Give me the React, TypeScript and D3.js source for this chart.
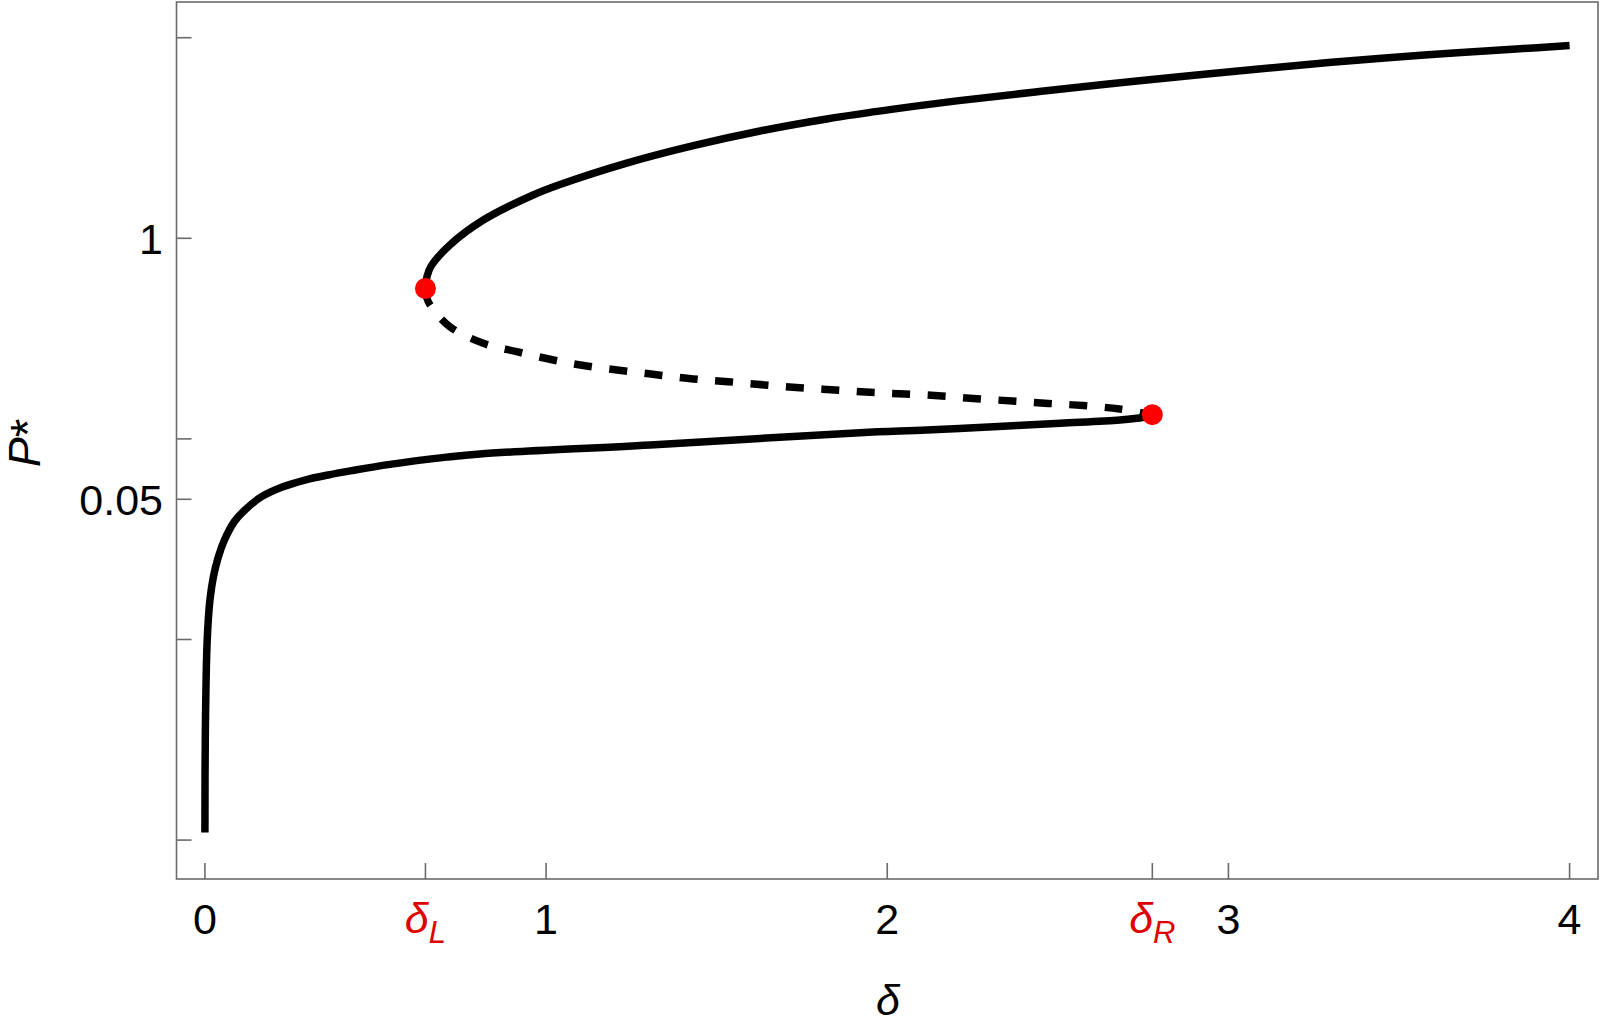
import React from 'react';
import * as d3 from 'd3';

// stable branch starting at delta = 0
const lowerDelta = [0, 0.0012, 0.0067, 0.0147, 0.0249, 0.0396, 0.0572, 0.0865, 0.1173, 0.1662, 0.2249, 0.2932, 0.3615, 0.4301, 0.542, 0.709, 0.806, 1.305, 1.92, 2.116, 2.311, 2.507, 2.682, 2.751, 2.777];
const lowerP = [0.00109, 0.00342, 0.00993, 0.01574, 0.02056, 0.02588, 0.03133, 0.03875, 0.04426, 0.05152, 0.05741, 0.06237, 0.06607, 0.06943, 0.07464, 0.0811, 0.08414, 0.09333, 0.1074, 0.1107, 0.1151, 0.1197, 0.1242, 0.1282, 0.1321];

// unstable branch (dashed)
const middleDelta = [0.6464, 0.6505, 0.66, 0.718, 0.816, 0.914, 1.021, 1.119, 1.226, 1.329, 1.431, 1.534, 1.64, 1.744, 1.847, 1.95, 2.052, 2.16, 2.262, 2.368, 2.472, 2.575, 2.681, 2.777];
const middleP = [0.5623, 0.504, 0.4652, 0.3625, 0.2996, 0.2721, 0.2473, 0.2309, 0.2188, 0.2084, 0.1991, 0.1928, 0.1858, 0.1799, 0.1754, 0.1706, 0.1675, 0.1637, 0.1585, 0.1545, 0.1503, 0.1466, 0.1409, 0.1321];

// upper stable branch
const upperDelta = [0.6464, 0.6511, 0.6625, 0.718, 0.816, 0.962, 1.0408, 1.2363, 1.4316, 1.6271, 1.8227, 2.0179, 2.2038, 2.452, 2.732, 3.013, 3.294, 3.574, 3.855, 4.0];
const upperP = [0.5623, 0.6457, 0.7244, 0.926, 1.2334, 1.644, 1.854, 2.371, 2.897, 3.428, 3.936, 4.406, 4.842, 5.408, 6.081, 6.792, 7.516, 8.204, 8.81, 9.141];

// fold points
const foldDelta = [0.6464, 2.777];
const foldP = [0.5623, 0.1321];

const xTickValues = [0, 0.6464, 1, 2, 2.777, 3, 4];
const xTickLabels = ['0', 'δL', '1', '2', 'δR', '3', '4'];
const yTickValues = [0.001, 0.01, 0.05, 0.1, 1, 10];
const yTickLabels = ['', '', '0.05', '', '1', ''];

export default function App() {
    const left = 176.5, right = 1598, top = 2, bottom = 879;
    const font = '"Liberation Sans", Arial, sans-serif';

    const x = d3.scaleLinear().domain([-0.0833, 4.0833]).range([left, right]);
    const y = d3.scaleLog().domain([Math.pow(10, -3.194), Math.pow(10, 1.178)]).range([bottom, top]);

    const line = d3.line<[number, number]>()
        .x(d => x(d[0]))
        .y(d => y(d[1]))
        .curve(d3.curveCatmullRom.alpha(0.5));

    const zip = (a: number[], b: number[]) => a.map((v, i) => [v, b[i]] as [number, number]);

    const axisColor = '#6b6b6b';

    return (
        <svg width={1600} height={1026} style={{ position: 'absolute', left: 0, top: 0, background: '#fff' }}>
            <rect x={left} y={top} width={right - left} height={bottom - top} fill="none" stroke={axisColor} strokeWidth={1.6} />

            {yTickValues.map((v, i) => (
                <g key={'y' + i}>
                    <line x1={left} x2={left + 15} y1={y(v)} y2={y(v)} stroke={axisColor} strokeWidth={1.6} />
                    {yTickLabels[i] && (
                        <text x={163} y={y(v) + 15.5} textAnchor="end" fontFamily={font} fontSize={43} fill="#000">{yTickLabels[i]}</text>
                    )}
                </g>
            ))}

            {xTickValues.map((v, i) => {
                const lab = xTickLabels[i];
                const isSym = lab.startsWith('δ');
                return (
                    <g key={'x' + i}>
                        <line x1={x(v)} x2={x(v)} y1={bottom} y2={bottom - 16} stroke={axisColor} strokeWidth={1.6} />
                        {isSym ? (
                            <text x={x(v)} y={933} textAnchor="middle" fontFamily={font} fontSize={43} fill="#e00000" fontStyle="italic">
                                δ<tspan fontSize={31} dy={10}>{lab.slice(1)}</tspan>
                            </text>
                        ) : (
                            <text x={x(v)} y={934} textAnchor="middle" fontFamily={font} fontSize={43} fill="#000">{lab}</text>
                        )}
                    </g>
                );
            })}

            <path d={line(zip(lowerDelta, lowerP)) || ''} fill="none" stroke="#000" strokeWidth={7.5} />
            <path d={line(zip(upperDelta, upperP)) || ''} fill="none" stroke="#000" strokeWidth={7.5} />
            <path d={line(zip(middleDelta, middleP)) || ''} fill="none" stroke="#000" strokeWidth={7.5} strokeDasharray="18 17.5" />

            {foldDelta.map((v, i) => (
                <circle key={'f' + i} cx={x(v)} cy={y(foldP[i])} r={10.5} fill="#ff0000" />
            ))}

            <text x={888} y={1015} textAnchor="middle" fontFamily={font} fontSize={43} fontStyle="italic" fill="#000">δ</text>
            <text transform="translate(40, 443) rotate(-90)" textAnchor="middle" fontFamily={font} fontSize={45} fontStyle="italic" fill="#000">
                P<tspan fontStyle="normal" fontSize={48} dy={4}>*</tspan>
            </text>
        </svg>
    );
}
